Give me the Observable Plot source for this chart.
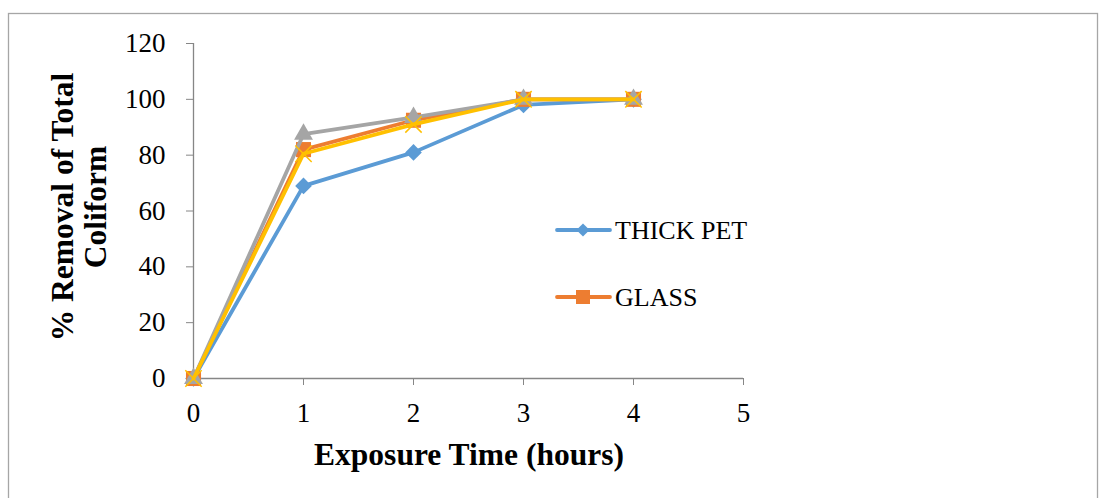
<!DOCTYPE html>
<html>
<head>
<meta charset="utf-8">
<script src="https://cdn.jsdelivr.net/npm/d3@7"></script>
<script src="https://cdn.jsdelivr.net/npm/@observablehq/plot@0.6"></script>
<style>
  html, body { margin: 0; padding: 0; background: #fff; }
  #chart { width: 1105px; height: 498px; overflow: hidden; }
</style>
</head>
<body>
<div id="chart"></div>
<script>
const hours = [0, 1, 2, 3, 4];
const thickPet = [0, 69, 81, 98, 100];
const glass = [0, 82, 92.5, 100, 100];
const series3 = [0, 87.5, 93.5, 100, 100];
const series4 = [0, 80.5, 91, 100, 100];
const seriesNames = ["THICK PET", "GLASS", "Series 3", "Series 4"];
const seriesColors = ["#5B9BD5", "#ED7D31", "#A5A5A5", "#FFC000"];
const seriesSymbols = ["diamond2", "square", "triangle", "times"];
const seriesValues = [thickPet, glass, series3, series4];
const legendNames = ["THICK PET", "GLASS"];
const xTicks = [0, 1, 2, 3, 4, 5];
const yTicks = [0, 20, 40, 60, 80, 100, 120];
const xTitle = "Exposure Time (hours)";
const yTitleLines = ["% Removal of Total", "Coliform"];

const data = seriesNames.flatMap((s, i) => hours.map((h, j) => ({series: s, x: h, y: seriesValues[i][j]})));
const axisColor = "#868686";
const serif = "'Liberation Serif', 'Times New Roman', serif";

const marks = [
  Plot.ruleY([0], {stroke: axisColor, strokeWidth: 1.3}),
  Plot.ruleX([0], {stroke: axisColor, strokeWidth: 1.3}),
  Plot.axisX({ticks: xTicks, tickSize: 7, tickPadding: 17, stroke: axisColor, fill: "black", fontSize: 27, label: null, tickFormat: d => String(d)}),
  Plot.axisY({ticks: yTicks, tickSize: 7, tickPadding: 21, stroke: axisColor, fill: "black", fontSize: 27, label: null, tickFormat: d => String(d)})
];
const symR = {diamond2: 7.5, square: 8.5, triangle: 7, times: 7.5};
seriesNames.forEach((s, i) => {
  const d = data.filter(r => r.series === s);
  marks.push(Plot.line(d, {x: "x", y: "y", stroke: seriesColors[i], strokeWidth: 3.8}));
  const sym = seriesSymbols[i];
  if (sym === "times") {
    marks.push(Plot.dot(d, {x: "x", y: "y", symbol: sym, stroke: seriesColors[i], strokeWidth: 1.5, r: symR[sym]}));
  } else {
    marks.push(Plot.dot(d, {x: "x", y: "y", symbol: sym, fill: seriesColors[i], stroke: "none", r: symR[sym]}));
  }
});

const plot = Plot.plot({
  width: 1105,
  height: 498,
  marginLeft: 193,
  marginRight: 362,
  marginTop: 43,
  marginBottom: 120,
  x: {domain: [0, 5]},
  y: {domain: [0, 120]},
  style: {fontFamily: serif, background: "white", color: "black"},
  marks
});
document.getElementById("chart").appendChild(plot);

const svg = d3.select(plot);
// outer border
svg.insert("rect", ":first-child")
  .attr("x", 8.5).attr("y", 13.5).attr("width", 1089).attr("height", 500)
  .attr("fill", "none").attr("stroke", "#a6a6a6").attr("stroke-width", 1.3);

// x title
svg.append("text")
  .attr("x", 469).attr("y", 465)
  .attr("text-anchor", "middle")
  .attr("font-family", serif).attr("font-weight", "bold").attr("font-size", 31.5)
  .text(xTitle);

// y title (two lines)
const yt = svg.append("text")
  .attr("transform", "translate(73,207) rotate(-90)")
  .attr("text-anchor", "middle")
  .attr("font-family", serif).attr("font-weight", "bold").attr("font-size", 31.5);
yt.append("tspan").attr("x", 0).attr("dy", 0).text(yTitleLines[0]);
yt.append("tspan").attr("x", 0).attr("dy", 33).text(yTitleLines[1]);

// legend
const legendY = [230, 297];
legendNames.forEach((name, i) => {
  const g = svg.append("g");
  g.append("line").attr("x1", 557).attr("x2", 610).attr("y1", legendY[i]).attr("y2", legendY[i])
    .attr("stroke", seriesColors[i]).attr("stroke-width", 3.8).attr("stroke-linecap", "round");
  const s = i === 0 ? 11 : 14;
  if (i === 0) {
    g.append("path").attr("d", `M0,${-s/2*1.2}L${s/2*1.2},0L0,${s/2*1.2}L${-s/2*1.2},0Z`)
      .attr("transform", `translate(583,${legendY[i]})`).attr("fill", seriesColors[i]);
  } else {
    g.append("rect").attr("x", 583 - s/2).attr("y", legendY[i] - s/2).attr("width", s).attr("height", s)
      .attr("fill", seriesColors[i]);
  }
  g.append("text").attr("x", 615).attr("y", legendY[i]).attr("dy", "0.35em")
    .attr("text-anchor", "start")
    .attr("font-family", serif).attr("font-size", 26).attr("fill", "black").text(name);
});
</script>
</body>
</html>
